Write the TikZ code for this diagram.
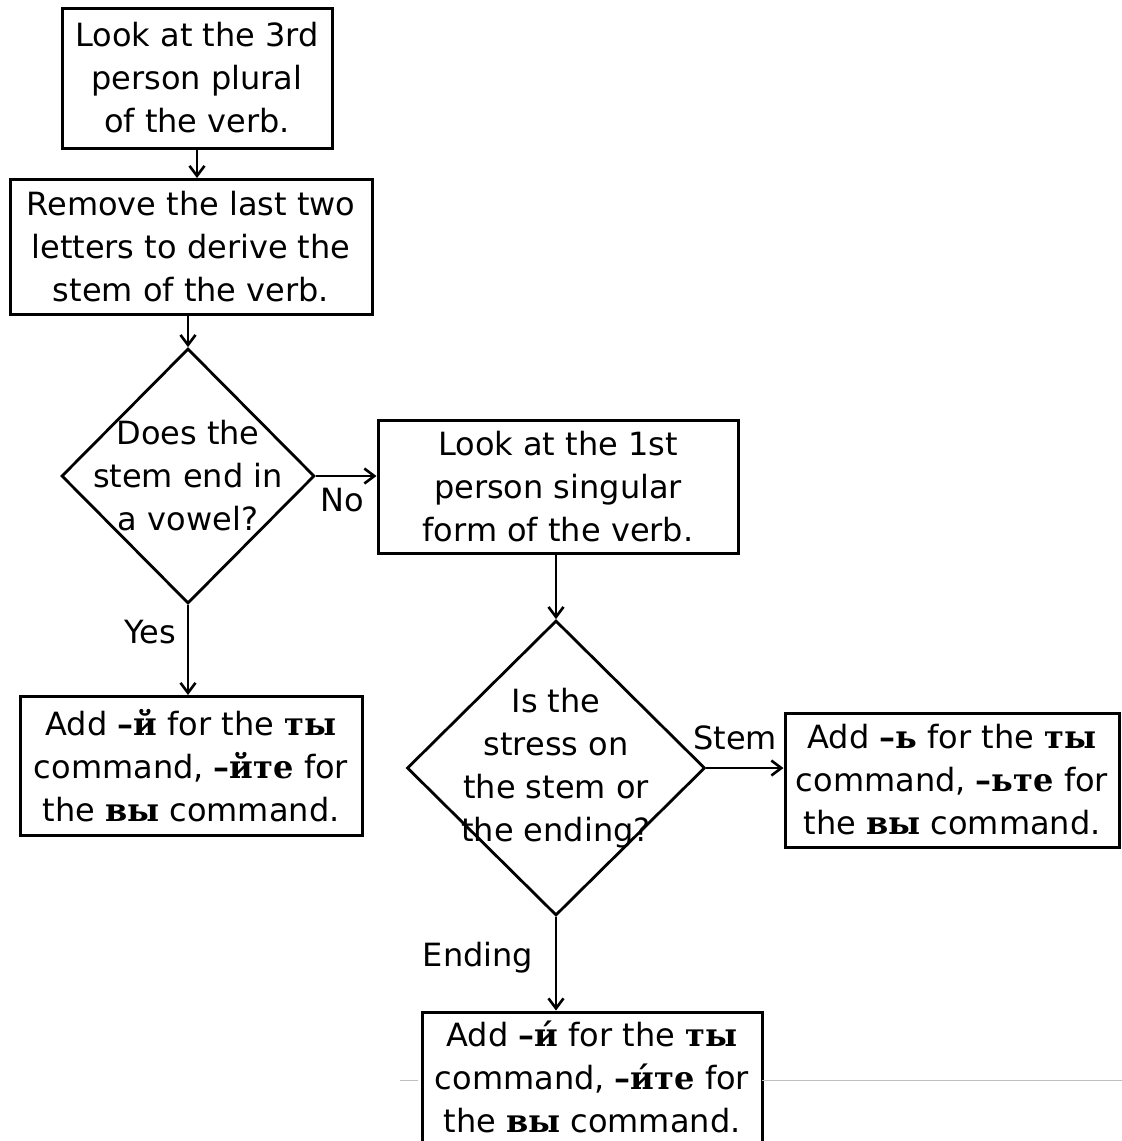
\documentclass[tikz,border=0pt]{standalone}
\usepackage{fontspec}
\setmainfont{DejaVu Sans}
\newfontfamily\cyrfont{DejaVu Serif}
\usetikzlibrary{shapes.geometric,arrows.meta}
\newcommand{\ru}[1]{{\cyrfont\bfseries #1}}

\begin{document}
\begin{tikzpicture}
[x=0.5pt,y=-0.5pt,>={Straight Barb[length=5pt,width=7.5pt]},
 box/.style={draw,line width=1.5pt,rectangle,inner sep=0pt,align=center,font=\fontsize{16}{21.5}\selectfont},
 decision/.style={draw,line width=1.4pt,diamond,inner sep=0pt},
 question/.style={align=center,inner sep=0pt,font=\fontsize{16}{21.5}\selectfont},
 answer/.style={inner sep=0pt,font=\fontsize{16}{18}\selectfont},
 link/.style={line width=1.3pt}]

\clip (0,0) rectangle (1122,1141);

% the coordinates of the shapes
\coordinate (B1) at (197,78);
\coordinate (B2) at (191,247);
\coordinate (D1) at (188,476);
\coordinate (B3) at (558,487);
\coordinate (B4) at (191,766);
\coordinate (D2) at (556,768);
\coordinate (B5) at (952,780);
\coordinate (B6) at (592,1077);

% the boxes
\node[box,minimum width=135pt,minimum height=70pt] (third) at (B1)
  {Look at the 3rd\\person plural\\of the verb.};
\node[box,minimum width=181pt,minimum height=67.5pt] (stem) at (B2)
  {Remove the last two\\letters to derive the\\stem of the verb.};
\node[box,minimum width=180pt,minimum height=66.5pt] (first) at (B3)
  {Look at the 1st\\person singular\\form of the verb.};
\node[box,minimum width=171pt,minimum height=69.5pt] (vowel) at (B4)
  {Add \ru{–й} for the \ru{ты}\\command, \ru{–йте} for\\the \ru{вы} command.};
\node[box,minimum width=167pt,minimum height=67pt] (soft) at (B5)
  {Add \ru{–ь} for the \ru{ты}\\command, \ru{–ьте} for\\the \ru{вы} command.};
\node[box,minimum width=170pt,minimum height=65pt] (ending) at (B6)
  {Add \ru{–и́} for the \ru{ты}\\command, \ru{–и́те} for\\the \ru{вы} command.};

% the decisions
\node[decision,minimum width=126.5pt,minimum height=127.5pt] (ask1) at (D1) {};
\node[question] (ask1text) at (D1) {Does the\\stem end in\\a vowel?};
\node[decision,minimum width=149pt,minimum height=147.5pt] (ask2) at (D2) {};
\node[question] (ask2text) at (D2) {Is the\\stress on\\the stem or\\the ending?};

% the connectors
\draw[link,->] (third.south) -- (third.south |- stem.north);
\draw[link,->] (stem.south -| ask1.north) -- (ask1.north);
\draw[link,->] (ask1.east) -- (ask1.east -| first.west);
\draw[link,->] (ask1.south) -- (ask1.south |- vowel.north);
\draw[link,->] (first.south -| ask2.north) -- (ask2.north);
\draw[link,->] (ask2.east) -- (ask2.east -| soft.west);
\draw[link,->] (ask2.south) -- (ask2.south |- ending.north);

% labelling the answers
\node[answer] (no) at (342,500) {No};
\node[answer] (yes) at (150,632) {Yes};
\node[answer] (stemlabel) at (735,738) {Stem};
\node[answer] (endlabel) at (478,958) {Ending};

% the faint line at the bottom
\draw[gray!50,thin] (400,1080) -- (418,1080);
\draw[gray!50,thin] (762,1080) -- (1122,1080);

\end{tikzpicture}
\end{document}
